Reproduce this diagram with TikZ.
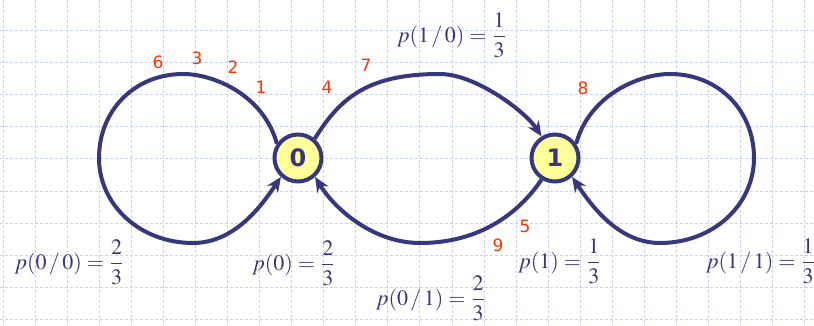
\documentclass[tikz,border=0pt]{standalone}
\usepackage[no-math]{fontspec}
\usepackage{mathptmx}
\usepackage{amsmath}
\usetikzlibrary{arrows.meta}
\newfontfamily\dejavu{DejaVu Sans}
\definecolor{navy}{RGB}{55,55,125}
\definecolor{stepred}{RGB}{255,51,0}
\definecolor{gridblue}{RGB}{200,210,245}
\definecolor{paleyellow}{RGB}{255,255,153}

\begin{document}
\begin{tikzpicture}[x=0.5pt,y=0.5pt,
    state/.style={circle,draw=navy,fill=paleyellow,line width=2pt,minimum size=23.5pt,inner sep=0pt,text=navy,font=\dejavu\bfseries\fontsize{12}{14}\selectfont},
    trans/.style={draw=navy,line width=2pt,-{Stealth[length=7.5pt,width=6.5pt]}},
    order/.style={text=stepred,font=\dejavu\fontsize{8.5}{10}\selectfont,inner sep=0pt},
    prob/.style={text=navy,font=\fontsize{11}{13}\selectfont,inner sep=0pt},
    gridline/.style={draw=gridblue,line width=0.5pt,dash pattern=on 1.5pt off 1pt}]
    \useasboundingbox (0,0) rectangle (814,-326);
    \fill[white] (0,0) rectangle (814,-326);
    % background grid
    \foreach \gx in {0,...,25}
        \draw[gridline] ({3.3+32.05*\gx},0) -- ({3.3+32.05*\gx},-326);
    \foreach \gy in {0,...,9}
        \draw[gridline] (0,{-31-32*\gy}) -- (814,{-31-32*\gy});

    % states
    \node[state] (n0) at (298,-158) {0};
    \node[state] (n1) at (555,-158) {1};

    % transitions
    \draw[trans] (n0.146) .. controls (264,-96) and (215,-74) .. (183,-74)
        .. controls (135,-74) and (99,-110) .. (99,-158)
        .. controls (99,-205) and (140,-243) .. (193,-243)
        .. controls (235,-243) and (262,-205) .. (n0.228);
    \draw[trans] (n0.49) .. controls (341,-96) and (370,-74) .. (440,-74)
        .. controls (475,-74) and (525,-111) .. (n1.122);
    \draw[trans] (n1.238) .. controls (519,-213) and (480,-243) .. (420,-243)
        .. controls (375,-243) and (336,-211) .. (n0.312);
    \draw[trans] (n1.34) .. controls (589,-96) and (638,-74) .. (670,-74)
        .. controls (718,-74) and (754,-110) .. (754,-158)
        .. controls (754,-205) and (713,-243) .. (660,-243)
        .. controls (618,-243) and (591,-205) .. (n1.312);

    % order of the symbols
    \node[order] (o1) at (261,-87) {1};
    \node[order] (o2) at (233,-67) {2};
    \node[order] (o3) at (197,-58) {3};
    \node[order] (o4) at (327,-87) {4};
    \node[order] (o5) at (525,-226) {5};
    \node[order] (o6) at (158,-62) {6};
    \node[order] (o7) at (366,-65) {7};
    \node[order] (o8) at (583,-88) {8};
    \node[order] (o9) at (498,-245) {9};

    % probabilities
    \node[prob] (p00) at (69.5,-262) {$p(0\,/\,0)=\dfrac{2}{3}$};
    \node[prob] (p0) at (294,-263) {$p(0)=\dfrac{2}{3}$};
    \node[prob] (p10) at (452,-35) {$p(1\,/\,0)=\dfrac{1}{3}$};
    \node[prob] (p01) at (431,-298) {$p(0\,/\,1)=\dfrac{2}{3}$};
    \node[prob] (p1) at (560,-261) {$p(1)=\dfrac{1}{3}$};
    \node[prob] (p11) at (761,-261) {$p(1\,/\,1)=\dfrac{1}{3}$};
\end{tikzpicture}
\end{document}
